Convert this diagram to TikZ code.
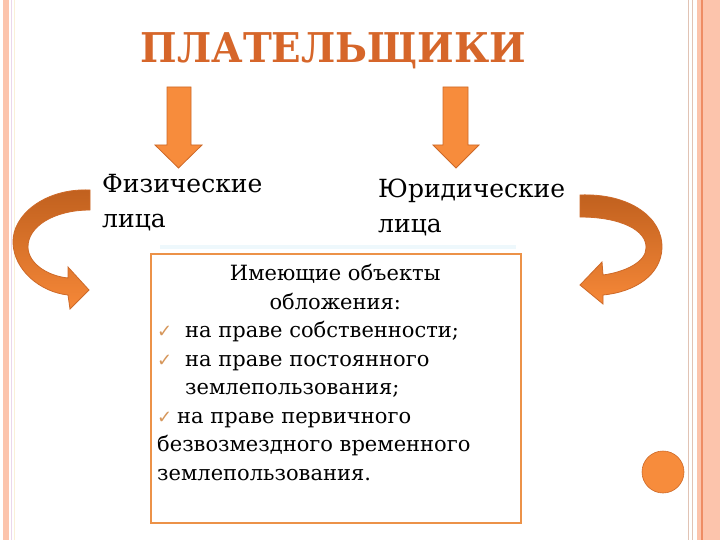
\documentclass[tikz,border=0pt]{standalone}
\usepackage{fontspec}
\setmainfont{DejaVu Serif}
\newfontfamily\symfont{DejaVu Sans}
\definecolor{pinkA}{RGB}{252,196,172}
\definecolor{lavl}{RGB}{235,215,235}
\definecolor{yell}{RGB}{250,240,215}
\definecolor{tanl}{RGB}{225,195,180}
\definecolor{orline}{RGB}{238,140,100}
\definecolor{titlec}{RGB}{214,102,42}
\definecolor{arrowF}{RGB}{247,140,60}
\definecolor{arrowO}{RGB}{205,105,40}
\definecolor{curveD}{RGB}{192,96,30}
\definecolor{curveL}{RGB}{246,136,56}
\definecolor{boxc}{RGB}{236,146,72}
\definecolor{chkc}{RGB}{214,150,90}
\definecolor{shadowc}{RGB}{238,248,252}
\tikzset{
  body/.style={font=\fontsize{25}{35}\selectfont, align=left, inner sep=0pt, anchor=base west},
  boxtext/.style={font=\fontsize{21}{28.5}\selectfont, align=left, inner sep=0pt, anchor=base west},
  blockarrow/.style={fill=arrowF, draw=arrowO, line width=0.8pt, line join=miter},
  curvearrow/.style={top color=curveD, bottom color=curveL, draw=arrowO, line width=0.8pt},
}
\newcommand{\chk}{{\symfont\color{chkc}\fontsize{18}{18}\selectfont ✓}}
\begin{document}
\begin{tikzpicture}[x=1pt,y=-1pt]
\fill[white] (0,0) rectangle (720,540);
\useasboundingbox (0,0) rectangle (720,540);
% left border
\fill[pinkA] (3,0) rectangle (9,540);
\draw[lavl, line width=0.8pt] (11.5,0) -- (11.5,540);
\draw[yell, line width=0.8pt] (14.5,0) -- (14.5,540);
% right border
\draw[tanl, line width=1pt] (688,0) -- (688,540);
\draw[tanl, line width=0.8pt] (692,0) -- (692,540);
\fill[pinkA] (697,0) rectangle (720,540);
\draw[orline, line width=1.2pt] (702,0) -- (702,540);
% title
\node[font=\fontsize{41}{41}\selectfont\bfseries, text=titlec, anchor=base, inner sep=0pt, xscale=0.945] (title) at (333.5,63) {ПЛАТЕЛЬЩИКИ};
% down arrows
\filldraw[blockarrow] (167,87) -- (191,87) -- (191,145) -- (202,145) -- (178.5,168) -- (155,145) -- (167,145) -- cycle;
\filldraw[blockarrow] (443,87) -- (468,87) -- (468,145) -- (479,145) -- (456,168) -- (433,145) -- (443,145) -- cycle;
% texts (base anchor = baseline of last line)
\node[body] (fiz) at (102,227) {Физические\\лица};
\node[body] (yur) at (378,233) {Юридические\\лица};
% box
\fill[shadowc] (160,245) rectangle (516,249);
\node[draw=boxc, line width=1.8pt, minimum width=370pt, minimum height=269pt, anchor=north west, inner sep=0pt] (box) at (150,253) {};
\node[boxtext] (txt) at (157,480) {%
\makebox[356pt]{Имеющие объекты}\\
\makebox[356pt]{обложения:}\\
\makebox[28pt][l]{\chk}на праве собственности;\\
\makebox[28pt][l]{\chk}на праве постоянного\\
\hspace*{28pt}землепользования;\\
\makebox[20pt][l]{\chk}на праве первичного\\
безвозмездного временного\\
землепользования.};
% curved arrows
\shade[curvearrow] (90,190) .. controls (45,188) and (12,215) .. (13,243)
  .. controls (14,270) and (40,292) .. (68,295) -- (70,309) -- (89,290) -- (68,267) -- (68,278)
  .. controls (48,276) and (29,264) .. (28,248) .. controls (27,226) and (55,210) .. (90,210) -- cycle;
\shade[curvearrow] (580,195) .. controls (630,193) and (663,218) .. (662,248)
  .. controls (661,275) and (635,292) .. (603,295) -- (603,304) -- (580,285) -- (602,262) -- (603,275)
  .. controls (625,272) and (646,262) .. (646,248) .. controls (647,230) and (620,217) .. (580,217) -- cycle;
% circle
\filldraw[fill=arrowF, draw=arrowO, line width=0.6pt] (663,472) circle (21pt);
\end{tikzpicture}
\end{document}
